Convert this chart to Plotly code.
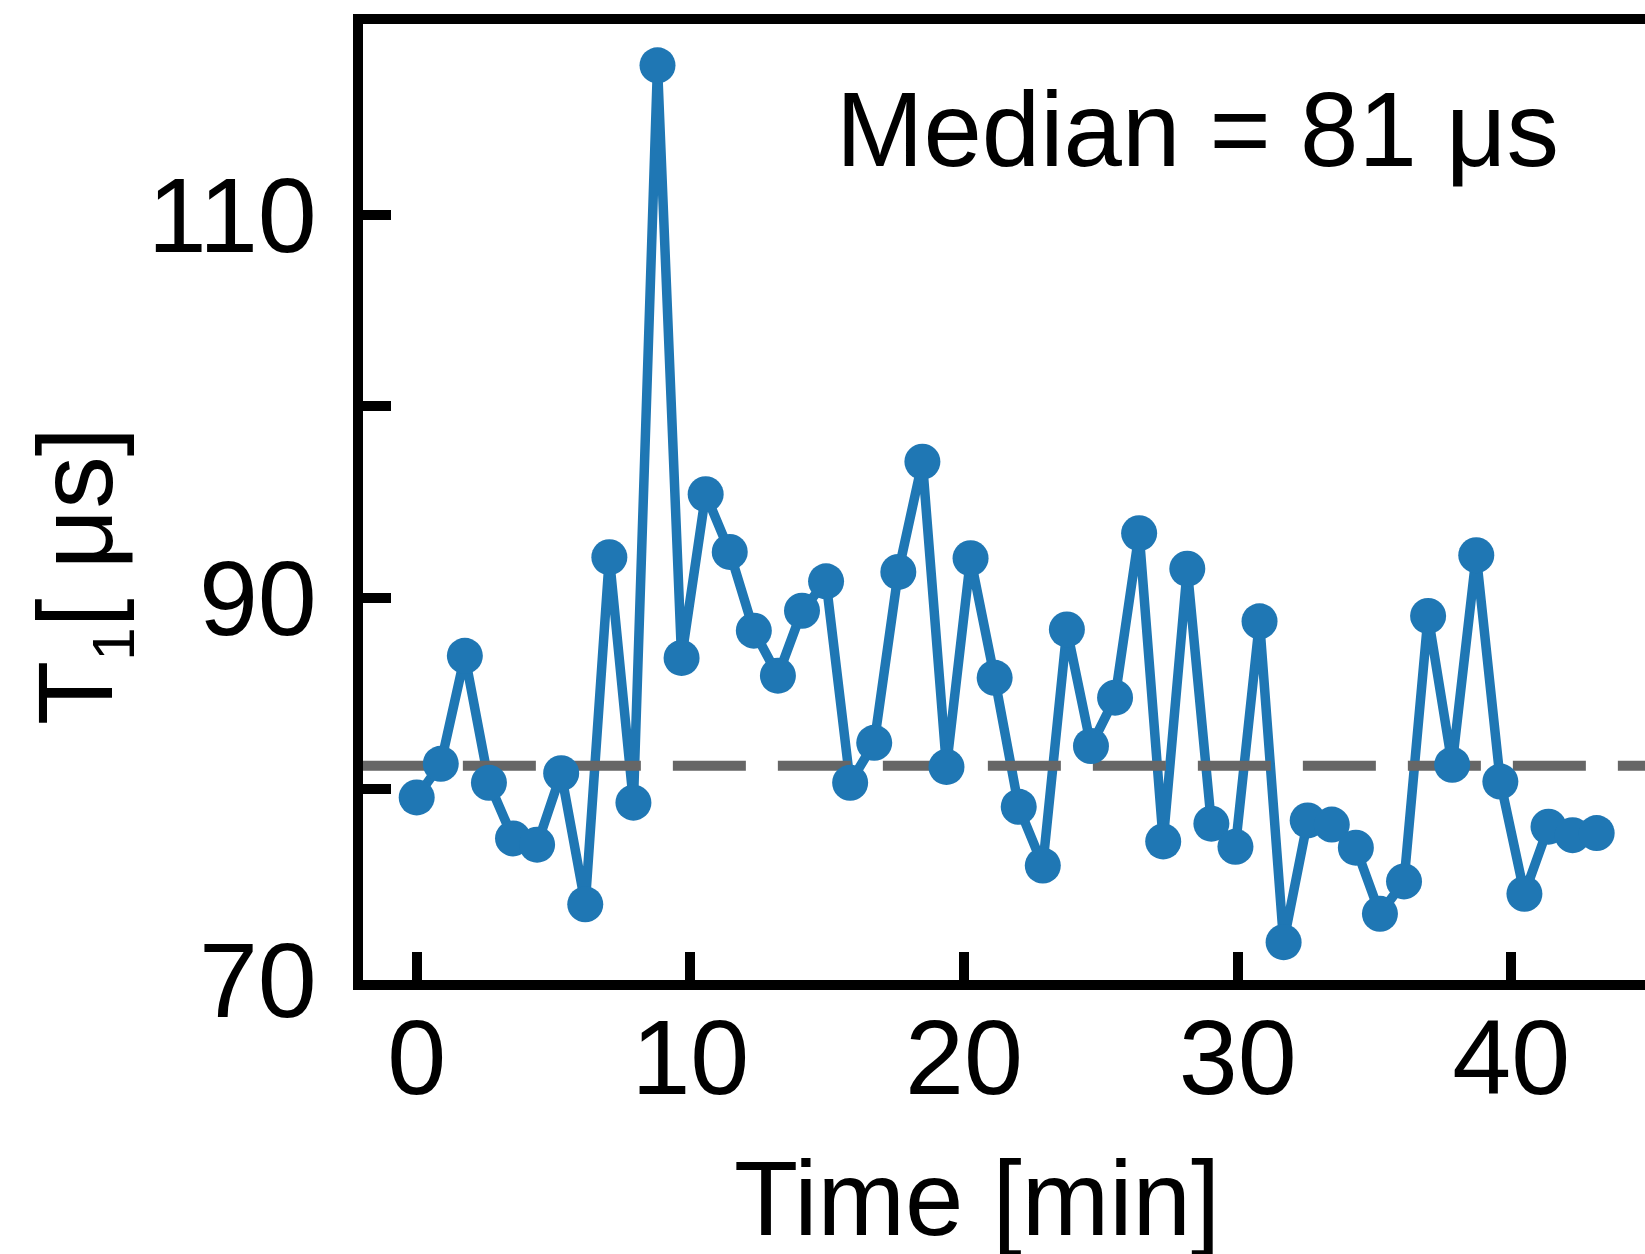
import numpy as np
import plotly.graph_objects as go

# ---- data ----
time_min = [0.00, 0.88, 1.76, 2.64, 3.52, 4.40, 5.28, 6.16, 7.04, 7.92,
            8.80, 9.68, 10.56, 11.44, 12.32, 13.20, 14.08, 14.96, 15.84, 16.72,
            17.60, 18.48, 19.36, 20.24, 21.12, 22.00, 22.88, 23.76, 24.64, 25.52,
            26.40, 27.28, 28.16, 29.04, 29.92, 30.80, 31.68, 32.56, 33.44, 34.32,
            35.20, 36.08, 36.96, 37.84, 38.72, 39.60, 40.48, 41.36, 42.24, 43.12]
t1_us = [79.54, 81.30, 86.95, 80.31, 77.40, 77.07, 80.81, 73.95, 92.11, 79.27,
         117.85, 86.84, 95.41, 92.39, 88.27, 85.91, 89.31, 90.85, 80.31, 82.40,
         91.34, 97.11, 81.14, 92.06, 85.80, 79.05, 75.98, 88.33, 82.23, 84.76,
         93.37, 77.24, 91.51, 78.17, 76.96, 88.76, 71.97, 78.34, 78.12, 76.91,
         73.45, 75.15, 89.04, 81.25, 92.22, 80.37, 74.50, 78.01, 77.57, 77.68]

x_tick_vals = [0, 10, 20, 30, 40]
x_tick_text = ["0", "10", "20", "30", "40"]
y_tick_vals = [70, 80, 90, 100, 110, 120]
y_tick_text = ["70", "", "90", "", "110", ""]

median_t1 = float(np.median(t1_us))

BLUE = "#1f77b4"
GREY = "#666666"
FONT = "Liberation Sans, Arial, sans-serif"

W, H = 1645, 1254
L, R, T, B = 363, 0, 24, 274
x_range = [-1.962, 44.886]
y_range = [69.99, 120.01]

fig = go.Figure()
# connecting line
fig.add_trace(go.Scatter(x=time_min, y=t1_us, mode="lines",
                         line=dict(color=BLUE, width=9.5), hoverinfo="skip",
                         showlegend=False))
# median dashed line
fig.add_trace(go.Scatter(x=[-2.15, 46], y=[median_t1, median_t1], mode="lines",
                         line=dict(color=GREY, width=10, dash="73px,32px"),
                         hoverinfo="skip", showlegend=False))
# markers
fig.add_trace(go.Scatter(x=time_min, y=t1_us, mode="markers",
                         marker=dict(color=BLUE, size=36, line=dict(width=0)),
                         showlegend=False))

pw = W - L - R
ph = H - T - B

def px_to_paper_x(px):
    return (px - L) / pw

def px_to_paper_y(py):
    return (H - B - py) / ph

fig.add_annotation(text=f"Median = {median_t1:.0f} μs",
                   x=px_to_paper_x(1197), y=px_to_paper_y(129),
                   xref="paper", yref="paper", xanchor="center", yanchor="middle",
                   showarrow=False, font=dict(family=FONT, size=105, color="black"))
fig.add_annotation(text="Time [min]",
                   x=px_to_paper_x(977), y=px_to_paper_y(1198),
                   xref="paper", yref="paper", xanchor="center", yanchor="middle",
                   showarrow=False, font=dict(family=FONT, size=105, color="black"))
fig.add_annotation(text="T<sub><span style='font-size:60px'>1</span></sub>[ μs]",
                   textangle=-90,
                   x=px_to_paper_x(82), y=px_to_paper_y(576),
                   xref="paper", yref="paper", xanchor="center", yanchor="middle",
                   showarrow=False, font=dict(family=FONT, size=105, color="black"))

axis_common = dict(showline=True, linewidth=10, linecolor="black",
                   ticks="inside", ticklen=28, tickwidth=10, tickcolor="black",
                   showgrid=False, zeroline=False,
                   tickfont=dict(family=FONT, size=106, color="black"))

fig.update_xaxes(range=x_range, tickmode="array", tickvals=x_tick_vals,
                 ticktext=x_tick_text, mirror=True, ticklabelstandoff=-23,
                 **axis_common)
fig.update_yaxes(range=y_range, tickmode="array", tickvals=y_tick_vals,
                 ticktext=y_tick_text, mirror=False, ticklabelstandoff=15,
                 **axis_common)

fig.update_layout(width=W, height=H,
                  margin=dict(l=L, r=R, t=T, b=B, pad=0, autoexpand=False),
                  paper_bgcolor="white", plot_bgcolor="white",
                  font=dict(family=FONT, color="black"))

fig.write_html("out.html", config={"displayModeBar": False})
